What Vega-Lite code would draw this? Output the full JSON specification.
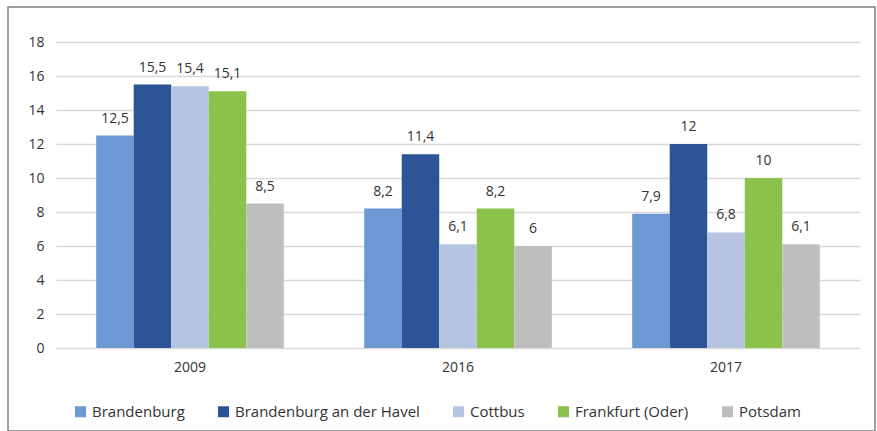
{
  "$schema": "https://vega.github.io/schema/vega-lite/v6.json",
  "width": 867,
  "height": 424,
  "autosize": {"type": "none"},
  "padding": {"left": 8, "top": 7, "right": 2, "bottom": 0},
  "background": "white",
  "config": {
    "view": {"stroke": "#808080", "strokeWidth": 1.5},
    "font": "Open Sans",
    "locale": {"number": {"decimal": ",", "thousands": ".", "grouping": [3], "currency": ["", " €"]}}
  },
  "data": {
    "values": [
      {"year": "2009", "city": "Brandenburg", "value": 12.5},
      {"year": "2009", "city": "Brandenburg an der Havel", "value": 15.5},
      {"year": "2009", "city": "Cottbus", "value": 15.4},
      {"year": "2009", "city": "Frankfurt (Oder)", "value": 15.1},
      {"year": "2009", "city": "Potsdam", "value": 8.5},
      {"year": "2016", "city": "Brandenburg", "value": 8.2},
      {"year": "2016", "city": "Brandenburg an der Havel", "value": 11.4},
      {"year": "2016", "city": "Cottbus", "value": 6.1},
      {"year": "2016", "city": "Frankfurt (Oder)", "value": 8.2},
      {"year": "2016", "city": "Potsdam", "value": 6},
      {"year": "2017", "city": "Brandenburg", "value": 7.9},
      {"year": "2017", "city": "Brandenburg an der Havel", "value": 12},
      {"year": "2017", "city": "Cottbus", "value": 6.8},
      {"year": "2017", "city": "Frankfurt (Oder)", "value": 10},
      {"year": "2017", "city": "Potsdam", "value": 6.1}
    ]
  },
  "encoding": {
    "x": {
      "field": "year", "type": "nominal",
      "scale": {"range": [48, 852], "paddingInner": 0.3, "paddingOuter": 0.15},
      "axis": {"orient": "bottom", "offset": -83, "title": null, "labelAngle": 0, "domain": false, "ticks": false, "tickSize": 0, "labelPadding": 12, "labelFontSize": 14, "labelColor": "#333333", "grid": false}
    },
    "xOffset": {"field": "city", "type": "nominal"},
    "y": {
      "field": "value", "type": "quantitative",
      "scale": {"domain": [0, 18], "range": [341, 35], "nice": false, "zero": true},
      "axis": {"values": [0, 2, 4, 6, 8, 10, 12, 14, 16, 18], "offset": -48, "title": null, "domain": false, "ticks": false, "tickSize": 0, "labelPadding": 12, "labelFontSize": 14, "labelColor": "#333333", "grid": true, "gridColor": "#d9d9d9", "gridWidth": 1.5, "format": "d"}
    }
  },
  "layer": [
    {
      "mark": {"type": "bar"},
      "encoding": {
        "color": {
          "field": "city", "type": "nominal",
          "scale": {
            "domain": ["Brandenburg", "Brandenburg an der Havel", "Cottbus", "Frankfurt (Oder)", "Potsdam"],
            "range": ["#6c98d4", "#2b5596", "#b6c4e1", "#8bc24c", "#bebebe"]
          },
          "legend": {
            "orient": "none", "legendX": 65, "legendY": 397, "direction": "horizontal", "title": null,
            "symbolType": "square", "symbolSize": 121, "symbolStrokeWidth": 0, "symbolOpacity": 1,
            "labelFontSize": 15, "labelColor": "#333333", "labelLimit": 0, "columnPadding": 31, "labelOffset": 4, "padding": 0
          }
        }
      }
    },
    {
      "mark": {"type": "text", "baseline": "alphabetic", "dy": -13, "fontSize": 14, "color": "#333333"},
      "encoding": {
        "text": {"field": "value", "type": "quantitative", "format": "~g"}
      }
    }
  ]
}
